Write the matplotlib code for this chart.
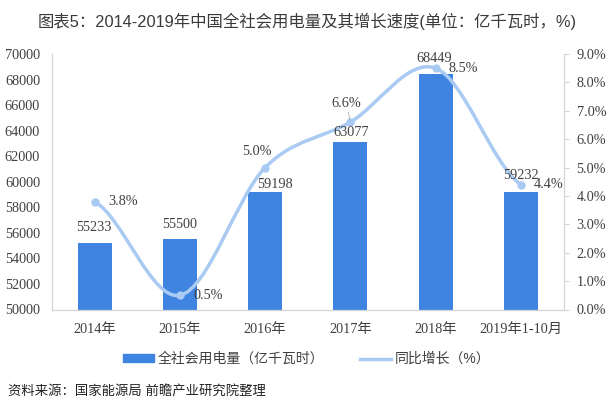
import numpy as np
import matplotlib
matplotlib.use('Agg')
import matplotlib.pyplot as plt
from matplotlib.path import Path
from matplotlib.patches import PathPatch, Patch
from matplotlib.lines import Line2D

years = ['2014年', '2015年', '2016年', '2017年', '2018年', '2019年1-10月']
power = [55233, 55500, 59198, 63077, 68449, 59232]
growth = [3.8, 0.5, 5.0, 6.6, 8.5, 4.4]
left_ticks = list(range(50000, 70001, 2000))
right_ticks = [0, 1, 2, 3, 4, 5, 6, 7, 8, 9]

BAR = '#3f84e0'
LINE = '#a9caf2'
TXT = '#404040'
AXIS = '#d4d4d4'
SERIF = ['Liberation Serif', 'Noto Sans CJK SC']
SANS = ['Liberation Sans', 'Noto Sans CJK SC']

W, H = 612, 413
fig = plt.figure(figsize=(W / 100, H / 100), dpi=100)
# 坐标轴位置按像素算
ax = fig.add_axes([52 / W, 1 - 309.5 / H, 511.5 / W, 255.5 / H])
ax2 = ax.twinx()
ax.set_zorder(1)
ax2.set_zorder(2)
ax2.patch.set_visible(False)

x = np.arange(len(years))
ax.bar(x, power, width=0.4, color=BAR)
ax.set_xlim(-0.5, 5.5)
ax.set_ylim(50000, 70000)
ax.set_yticks(left_ticks)
ax.set_xticks(x)
ax.set_xticklabels(years, family=SERIF, fontsize=10.3, color=TXT)
ax.tick_params(axis='x', length=0, pad=9.5)
ax.tick_params(axis='y', length=0, pad=8.6, labelsize=10.3, labelcolor=TXT)
for t in ax.get_yticklabels():
    t.set_family(SERIF)

ax2.set_ylim(0, 9)
ax2.set_yticks(right_ticks)
ax2.set_yticklabels([f'{v:.1f}%' for v in right_ticks], family=SERIF, fontsize=10.3, color=TXT)
ax2.tick_params(axis='y', length=3.6, color=AXIS, pad=5.8)

for a in (ax, ax2):
    a.spines['top'].set_visible(False)
    for s in ('left', 'right', 'bottom'):
        a.spines[s].set_color(AXIS)

# 平滑曲线
verts = [(x[0], growth[0])]
codes = [Path.MOVETO]
n = len(growth)
for i in range(n - 1):
    p0 = growth[max(i - 1, 0)]
    p1 = growth[i]
    p2 = growth[i + 1]
    p3 = growth[min(i + 2, n - 1)]
    verts += [(x[i] + 1 / 3, p1 + (p2 - p0) / 6),
              (x[i + 1] - 1 / 3, p2 - (p3 - p1) / 6),
              (x[i + 1], p2)]
    codes += [Path.CURVE4] * 3
ax2.add_patch(PathPatch(Path(verts, codes), fill=False, edgecolor=LINE, lw=2.5, capstyle='round'))
ax2.plot(x, growth, ls='none', marker='o', ms=5, color=LINE)

# 数据标签，偏移量单位是像素
power_off = [(-1, 15), (0, 15), (10, 7), (1, 10), (-1, 15), (0, 16)]
for i, v in enumerate(power):
    ax2.annotate(str(v), (x[i], v), xycoords=ax.transData, xytext=power_off[i],
                 textcoords='offset pixels', ha='center', va='center',
                 family=SERIF, fontsize=10.3, color=TXT)
growth_off = [(28, 0), (28, 0), (-8, 16), (-4, 19), (28, 0), (28, 0)]
for i, v in enumerate(growth):
    arrow = None
    if i == 3:
        arrow = dict(arrowstyle='-', color='#a6a6a6', lw=0.6, shrinkA=0, shrinkB=2)
    ax2.annotate(f'{v:.1f}%', (x[i], v), xytext=growth_off[i], textcoords='offset pixels',
                 ha='center', va='center', family=SERIF, fontsize=10.3, color=TXT,
                 arrowprops=arrow)

fig.text(307 / W, 1 - 21 / H, '图表5：2014-2019年中国全社会用电量及其增长速度(单位：亿千瓦时，%)',
         family=SANS, fontsize=11.8, color='#3a3a3a', ha='center', va='center')

# 图例
handles = [Patch(color=BAR), Line2D([0], [0], color=LINE, lw=2.5)]
fig.legend(handles, ['全社会用电量（亿千瓦时）', '同比增长（%）'], loc='center',
           bbox_to_anchor=(307 / W, 1 - 359 / H), ncol=2, frameon=False,
           prop={'family': SANS, 'size': 10}, labelcolor=TXT, columnspacing=2.6,
           handlelength=2.23, handleheight=0.5, handletextpad=0.25)

fig.text(8 / W, 1 - 392.5 / H, '资料来源：国家能源局 前瞻产业研究院整理',
         family=SANS, fontsize=9.6, color='#222222', ha='left', va='center')

fig.savefig('out.png', dpi=100)
